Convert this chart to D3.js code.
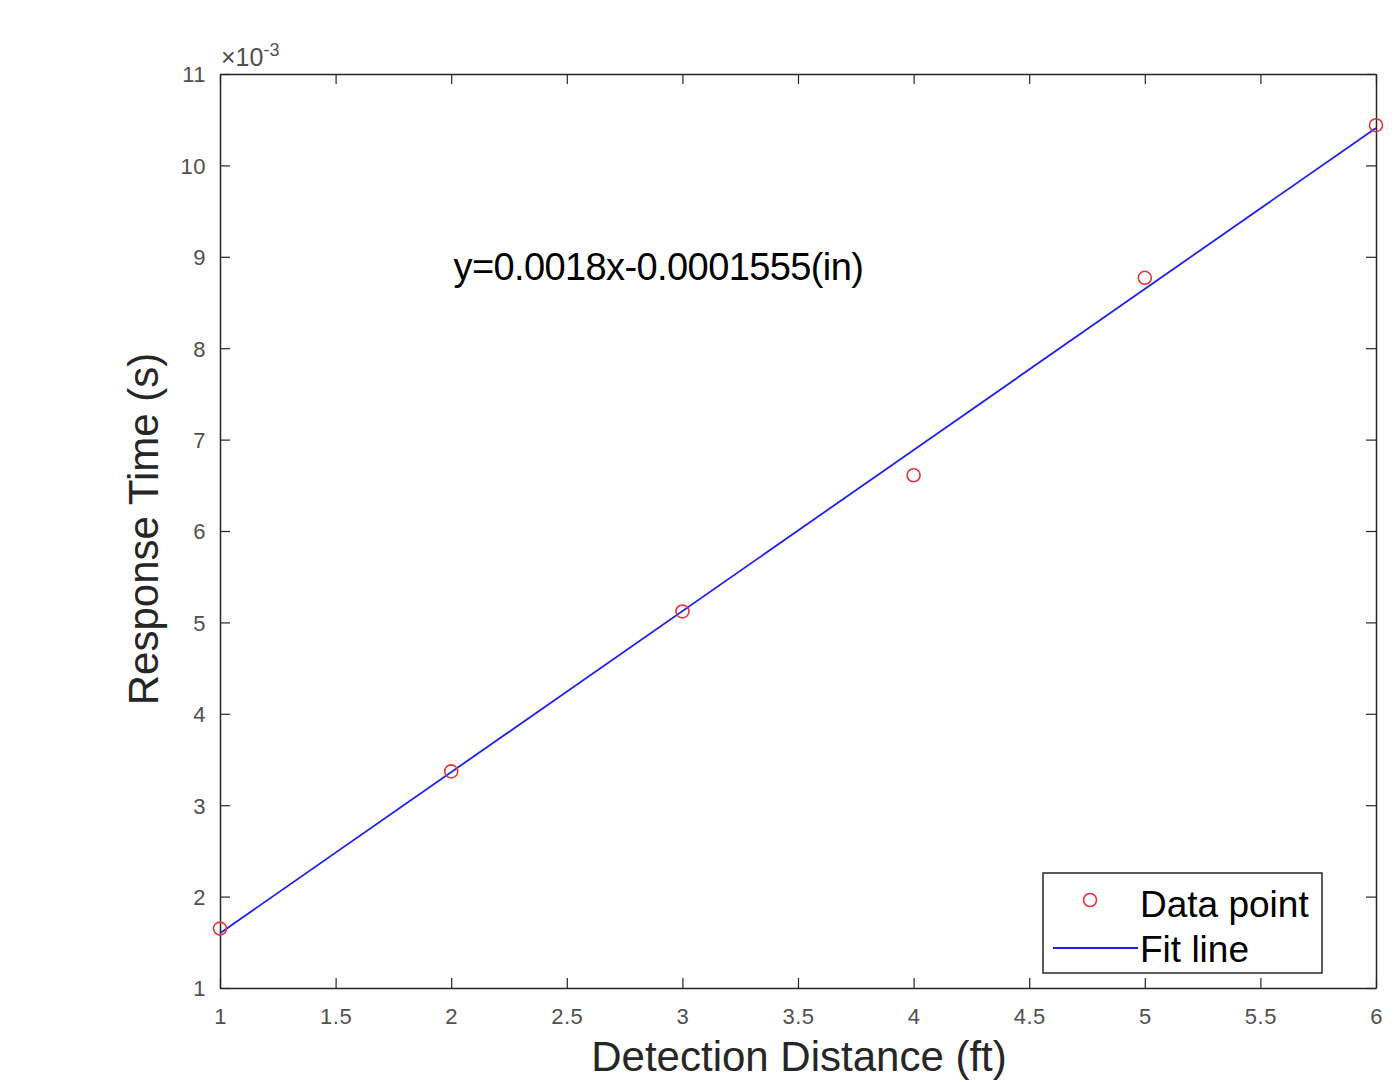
<!DOCTYPE html>
<html>
<head>
<meta charset="utf-8">
<script src="https://cdn.jsdelivr.net/npm/d3@7"></script>
<style>
  body { margin: 0; background: #fff; }
  svg { font-family: "Liberation Sans", Arial, Helvetica, sans-serif; }
</style>
</head>
<body>
<script>
// data (y in units of 1e-3 s)
var distances = [1, 2, 3, 4, 5, 6];
var responseTimes = [1.65, 3.37, 5.12, 6.61, 8.77, 10.44];
var fitX = [1, 6];
var fitY = [1.6, 10.41];
var xTicks = [1, 1.5, 2, 2.5, 3, 3.5, 4, 4.5, 5, 5.5, 6];
var yTicks = [1, 2, 3, 4, 5, 6, 7, 8, 9, 10, 11];

var width = 1394,
    height = 1082;

var margin = {top: 74, right: 18, bottom: 94, left: 220};
var innerW = width - margin.left - margin.right,
    innerH = height - margin.top - margin.bottom;

var svg = d3.select("body").append("svg")
    .attr("width", width)
    .attr("height", height);

var g = svg.append("g")
    .attr("transform", "translate(" + margin.left + "," + margin.top + ")");

var x = d3.scaleLinear().domain([1, 6]).range([0, innerW]);
var y = d3.scaleLinear().domain([1, 11]).range([innerH, 0]);

var fmt = function(d) { return d3.format("")(d); };

//bottom + top axes, ticks pointing inward
var xAxis = g.append("g")
    .attr("transform", "translate(0," + innerH + ")")
    .call(d3.axisBottom(x).tickValues(xTicks).tickFormat(fmt).tickSizeInner(-10).tickSizeOuter(0).tickPadding(20));
var xTop = g.append("g")
    .call(d3.axisTop(x).tickValues(xTicks).tickFormat("").tickSizeInner(-10).tickSizeOuter(0));
var yAxis = g.append("g")
    .call(d3.axisLeft(y).tickValues(yTicks).tickFormat(fmt).tickSizeInner(-10).tickSizeOuter(0).tickPadding(14));
var yRight = g.append("g")
    .attr("transform", "translate(" + innerW + ",0)")
    .call(d3.axisRight(y).tickValues(yTicks).tickFormat("").tickSizeInner(-10).tickSizeOuter(0));

[xAxis, xTop, yAxis, yRight].forEach(function(a) {
    a.select(".domain").attr("stroke", "#262626").attr("stroke-width", 1.5);
    a.selectAll(".tick line").attr("stroke", "#262626").attr("stroke-width", 1.2);
    a.selectAll(".tick text").attr("fill", "#505050")
        .style("font-size", "22px").style("letter-spacing", "0.5px");
});
yAxis.selectAll(".tick text").attr("dy", "0.36em");

//exponent label
var expo = g.append("text")
    .attr("x", 1)
    .attr("y", -8)
    .attr("fill", "#505050")
    .style("font-size", "25px");
expo.append("tspan").text("\u00d710");
expo.append("tspan").attr("dy", -10).style("font-size", "18px").text("-3");

//fit line
var line = d3.line()
    .x(function(d) { return x(d[0]); })
    .y(function(d) { return y(d[1]); });

g.append("path")
    .datum(d3.zip(fitX, fitY))
    .attr("d", line)
    .attr("fill", "none")
    .attr("stroke", "#2020ee")
    .attr("stroke-width", 1.8);

//data points
g.selectAll("circle.pt")
    .data(d3.zip(distances, responseTimes))
    .enter().append("circle")
    .attr("class", "pt")
    .attr("cx", function(d) { return x(d[0]); })
    .attr("cy", function(d) { return y(d[1]); })
    .attr("r", 6.5)
    .attr("fill", "none")
    .attr("stroke", "#e8323c")
    .attr("stroke-width", 1.6);

//equation annotation
g.append("text")
    .attr("x", x(2.01))
    .attr("y", y(8.75))
    .attr("fill", "#000")
    .style("font-size", "38px")
    .style("letter-spacing", "-0.6px")
    .text("y=0.0018x-0.0001555(in)");

//axis labels
svg.append("text")
    .attr("x", 799)
    .attr("y", 1071)
    .attr("text-anchor", "middle")
    .attr("fill", "#262626")
    .style("font-size", "42px")
    .text("Detection Distance (ft)");

svg.append("text")
    .attr("transform", "translate(158," + 529 + ") rotate(-90)")
    .attr("text-anchor", "middle")
    .attr("fill", "#262626")
    .style("font-size", "42px")
    .text("Response Time (s)");

//legend
var leg = svg.append("g").attr("transform", "translate(1043,873)");
leg.append("rect")
    .attr("width", 279)
    .attr("height", 100)
    .attr("fill", "#fff")
    .attr("stroke", "#262626")
    .attr("stroke-width", 1.5);
leg.append("circle")
    .attr("cx", 47).attr("cy", 27).attr("r", 6.5)
    .attr("fill", "none").attr("stroke", "#e8323c").attr("stroke-width", 1.6);
leg.append("line")
    .attr("x1", 10).attr("x2", 95).attr("y1", 75).attr("y2", 75)
    .attr("stroke", "#2020ee").attr("stroke-width", 1.8);
leg.append("text").attr("x", 97).attr("y", 44)
    .style("font-size", "37px").attr("fill", "#000").text("Data point");
leg.append("text").attr("x", 97).attr("y", 89)
    .style("font-size", "37px").attr("fill", "#000").text("Fit line");
</script>
</body>
</html>
